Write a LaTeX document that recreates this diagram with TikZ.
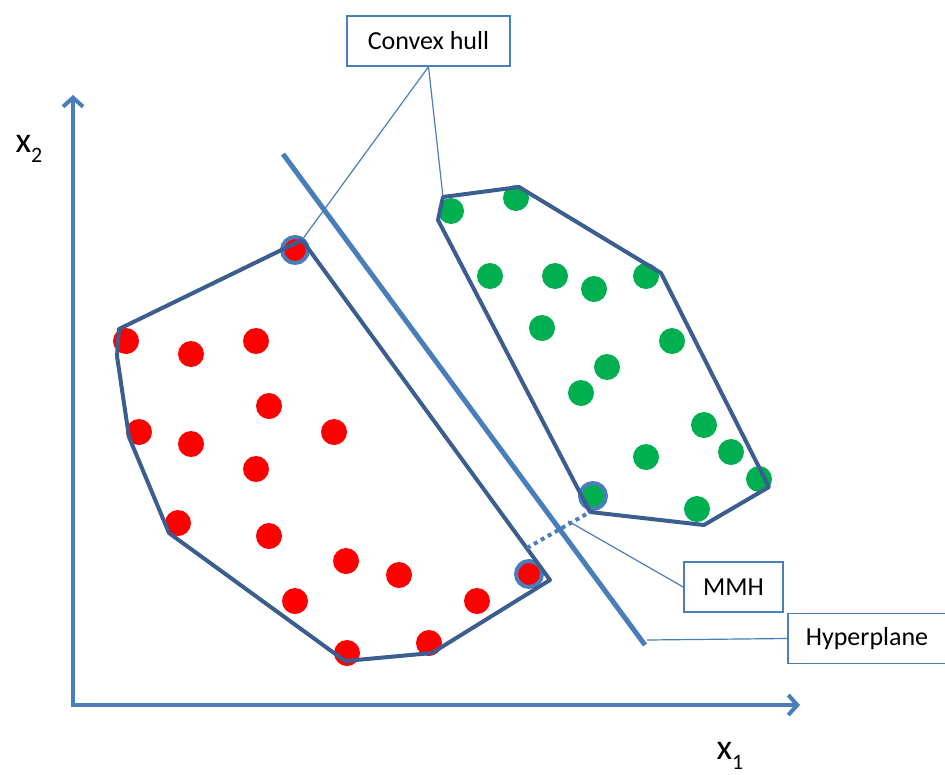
\documentclass[tikz,border=0pt]{standalone}
\usepackage{fontspec}
\setmainfont{Carlito}
\usetikzlibrary{arrows.meta}
\definecolor{hullblue}{RGB}{59,94,142}
\definecolor{axisblue}{RGB}{74,126,187}
\definecolor{ptred}{RGB}{255,0,0}
\definecolor{ptgreen}{RGB}{0,176,80}

\begin{document}
\begin{tikzpicture}[
    x=1pt, y=-1pt,
    hull/.style={draw=hullblue, line width=4pt, line join=round},
    axis/.style={draw=axisblue, line width=4pt, -{Straight Barb[length=9pt,width=20pt]}},
    plane/.style={draw=axisblue, line width=5pt},
    leader/.style={draw=axisblue, line width=1.2pt},
    margin/.style={draw=axisblue, line width=4pt, dash pattern=on 4pt off 4pt},
    tagbox/.style={rectangle, draw=axisblue, line width=1.5pt, fill=white, minimum height=50pt, inner sep=0pt, font=\fontsize{26}{30}\selectfont},
    suppring/.style={draw=axisblue, line width=4pt},
    axlabel/.style={inner sep=0pt, font=\fontsize{36}{40}\selectfont}
]
\useasboundingbox (0,0) rectangle (945,774);

% data points
\foreach \px/\py in {126/341, 191/354, 256/341, 269/406, 139/432, 191/444, 334/432,
    256/469, 178/523, 269/536, 346/561, 399/575, 295/601, 477/601, 347/653, 429/643}
    \fill[ptred] (\px,\py) circle[radius=13pt];
\foreach \px/\py in {451/211, 516/198, 490/276, 555/276, 594/289, 646/276, 542/328,
    672/341, 607/367, 581/393, 704/425, 731/452, 646/457, 759/479, 697/509}
    \fill[ptgreen] (\px,\py) circle[radius=13pt];

% support vectors
\filldraw[suppring, fill=ptred] (295,250) circle[radius=13pt];
\filldraw[suppring, fill=ptred] (529,574) circle[radius=13pt];
\filldraw[suppring, fill=ptgreen] (593,496) circle[radius=13pt];

% hull corners
\coordinate (r1) at (302,240);
\coordinate (r2) at (550,580);
\coordinate (r3) at (432,653);
\coordinate (r4) at (345,661);
\coordinate (r5) at (169,533);
\coordinate (r6) at (129,437);
\coordinate (r7) at (117,356);
\coordinate (r8) at (119,329);
\coordinate (g1) at (443,197);
\coordinate (g2) at (519,187);
\coordinate (g3) at (661,273);
\coordinate (g4) at (769,487);
\coordinate (g5) at (704,525);
\coordinate (g6) at (590,512);
\coordinate (g7) at (438,220);

\draw[hull] (r8) -- (r1) -- (r2) -- (r3) -- (r4) -- (r5) -- (r6) -- (r7) -- cycle;
\draw[hull] (g1) -- (g2) -- (g3) -- (g4) -- (g5) -- (g6) -- (g7) -- cycle;

% margin
\coordinate (m1) at (527,548);
\coordinate (mm) at (568,521);
\draw[margin] (m1) -- (g6);

% boxes
\node[tagbox, minimum width=163pt] (hullbox) at (428.5,41) {Convex hull};
\node[tagbox, minimum width=99pt] (mmh) at (733.5,587) {MMH};
\node[tagbox, minimum width=158pt] (hyp) at (867,638.5) {Hyperplane};

% leaders
\draw[leader] (hullbox.south) -- (r1);
\draw[leader] (hullbox.south) -- (g1);
\draw[leader] (mmh.west) -- (mm);
\coordinate (hpl) at (647,640);
\draw[leader] (hpl) -- (hyp.west);

% hyperplane
\coordinate (hp1) at (283,154);
\coordinate (hp2) at (645,645);
\draw[plane] (hp1) -- (hp2);

% axes
\coordinate (o) at (73,705);
\coordinate (ytip) at (73,95);
\coordinate (xtip) at (800,705);
\draw[axis] ([yshift=-2pt]o) -- (ytip);
\draw[axis] ([xshift=-2pt]o) -- (xtip);
\node[axlabel] (xtwo) at (29,149) {x\raisebox{-0.28em}{\fontsize{22}{22}\selectfont 2}};
\node[axlabel] (xone) at (730,756) {x\raisebox{-0.28em}{\fontsize{22}{22}\selectfont 1}};
\end{tikzpicture}
\end{document}
